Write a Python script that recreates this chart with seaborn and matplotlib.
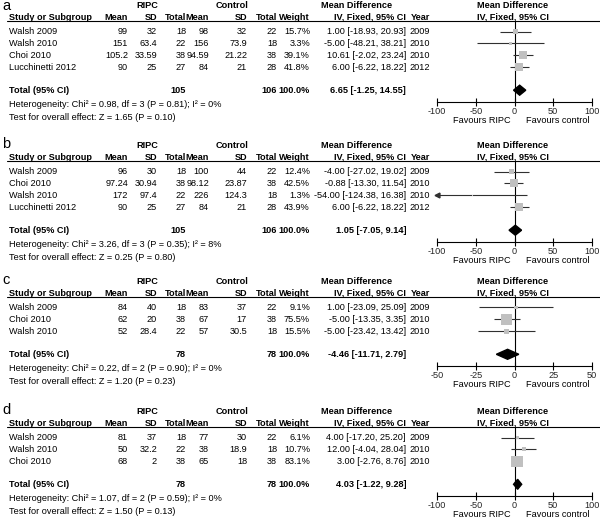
import matplotlib
matplotlib.use('Agg')
import matplotlib.pyplot as plt
from matplotlib.lines import Line2D
import pandas as pd
import seaborn as sns

sns.set_style('white')
plt.rcParams['font.family'] = ['Liberation Sans', 'DejaVu Sans']

# Panel a
a_study = ['Walsh 2009', 'Walsh 2010', 'Choi 2010', 'Lucchinetti 2012']
a_r_mean = [99, 151, 105.2, 90]
a_r_sd = [32, 63.4, 33.59, 25]
a_r_n = [18, 22, 38, 27]
a_c_mean = [98, 156, 94.59, 84]
a_c_sd = [32, 73.9, 21.22, 21]
a_c_n = [22, 18, 38, 28]
a_weight = [15.7, 3.3, 39.1, 41.8]
a_md = [1.00, -5.00, 10.61, 6.00]
a_lo = [-18.93, -48.21, -2.02, -6.22]
a_hi = [20.93, 38.21, 23.24, 18.22]
a_year = [2009, 2010, 2010, 2012]
a_total = [6.65, -1.25, 14.55]
a_ntot = [105, 106]
a_het = 'Heterogeneity: Chi² = 0.98, df = 3 (P = 0.81); I² = 0%'
a_test = 'Test for overall effect: Z = 1.65 (P = 0.10)'

# Panel b
b_study = ['Walsh 2009', 'Choi 2010', 'Walsh 2010', 'Lucchinetti 2012']
b_r_mean = [96, 97.24, 172, 90]
b_r_sd = [30, 30.94, 97.4, 25]
b_r_n = [18, 38, 22, 27]
b_c_mean = [100, 98.12, 226, 84]
b_c_sd = [44, 23.87, 124.3, 21]
b_c_n = [22, 38, 18, 28]
b_weight = [12.4, 42.5, 1.3, 43.9]
b_md = [-4.00, -0.88, -54.00, 6.00]
b_lo = [-27.02, -13.30, -124.38, -6.22]
b_hi = [19.02, 11.54, 16.38, 18.22]
b_year = [2009, 2010, 2010, 2012]
b_total = [1.05, -7.05, 9.14]
b_ntot = [105, 106]
b_het = 'Heterogeneity: Chi² = 3.26, df = 3 (P = 0.35); I² = 8%'
b_test = 'Test for overall effect: Z = 0.25 (P = 0.80)'

# Panel c
c_study = ['Walsh 2009', 'Choi 2010', 'Walsh 2010']
c_r_mean = [84, 62, 52]
c_r_sd = [40, 20, 28.4]
c_r_n = [18, 38, 22]
c_c_mean = [83, 67, 57]
c_c_sd = [37, 17, 30.5]
c_c_n = [22, 38, 18]
c_weight = [9.1, 75.5, 15.5]
c_md = [1.00, -5.00, -5.00]
c_lo = [-23.09, -13.35, -23.42]
c_hi = [25.09, 3.35, 13.42]
c_year = [2009, 2010, 2010]
c_total = [-4.46, -11.71, 2.79]
c_ntot = [78, 78]
c_het = 'Heterogeneity: Chi² = 0.22, df = 2 (P = 0.90); I² = 0%'
c_test = 'Test for overall effect: Z = 1.20 (P = 0.23)'

# Panel d
d_study = ['Walsh 2009', 'Walsh 2010', 'Choi 2010']
d_r_mean = [81, 50, 68]
d_r_sd = [37, 32.2, 2]
d_r_n = [18, 22, 38]
d_c_mean = [77, 38, 65]
d_c_sd = [30, 18.9, 18]
d_c_n = [22, 18, 38]
d_weight = [6.1, 10.7, 83.1]
d_md = [4.00, 12.00, 3.00]
d_lo = [-17.20, -4.04, -2.76]
d_hi = [25.20, 28.04, 8.76]
d_year = [2009, 2010, 2010]
d_total = [4.03, -1.22, 9.28]
d_ntot = [78, 78]
d_het = 'Heterogeneity: Chi² = 1.07, df = 2 (P = 0.59); I² = 0%'
d_test = 'Test for overall effect: Z = 1.50 (P = 0.13)'

W, H = 600, 520
FS = 6.6
fig = plt.figure(figsize=(W / 100, H / 100), dpi=100)


def txt(x, y, s, ha='left', bold=False, size=FS, va='center'):
    fig.text(x / W, 1 - y / H, s, ha=ha, va=va, fontsize=size,
             fontweight='bold' if bold else 'normal', color='black')


def fmt(v):
    return f'{v:g}'


def panel(letter, hdr, lim, study, r_mean, r_sd, r_n, c_mean, c_sd, c_n,
          weight, md, lo, hi, year, total, ntot, het, test):
    step = 11.9
    rows = [hdr + 14.5 + i * step for i in range(len(study))]
    y_tot = rows[-1] + 23
    y_axis = y_tot + 11.5
    y_top = hdr + 4

    # headers
    txt(2, max(hdr - 9, 10.5), letter, size=10.5, va='baseline')
    txt(147, hdr - 11, 'RIPC', ha='center', bold=True)
    txt(232, hdr - 11, 'Control', ha='center', bold=True)
    txt(357, hdr - 11, 'Mean Difference', ha='center', bold=True)
    txt(513, hdr - 11, 'Mean Difference', ha='center', bold=True)
    txt(9, hdr, 'Study or Subgroup', bold=True)
    cols = [128, 157, 186, 209, 247, 277, 310]
    for x, lab in zip(cols, ['Mean', 'SD', 'Total', 'Mean', 'SD', 'Total', 'Weight']):
        txt(x, hdr, lab, ha='right', bold=True)
    txt(406, hdr, 'IV, Fixed, 95% CI', ha='right', bold=True)
    txt(430, hdr, 'Year', ha='right', bold=True)
    txt(513, hdr, 'IV, Fixed, 95% CI', ha='center', bold=True)
    fig.add_artist(Line2D([7 / W, 1], [1 - y_top / H] * 2,
                          transform=fig.transFigure, color='black', lw=0.8))

    # study rows
    for i, y in enumerate(rows):
        txt(9, y, study[i])
        vals = [fmt(r_mean[i]), fmt(r_sd[i]), str(r_n[i]), fmt(c_mean[i]),
                fmt(c_sd[i]), str(c_n[i]), f'{weight[i]:.1f}%']
        for x, v in zip(cols, vals):
            txt(x, y, v, ha='right')
        txt(406, y, f'{md[i]:.2f} [{lo[i]:.2f}, {hi[i]:.2f}]', ha='right')
        txt(430, y, str(year[i]), ha='right')

    # total rows
    txt(9, y_tot, 'Total (95% CI)', bold=True)
    txt(186, y_tot, str(ntot[0]), ha='right', bold=True)
    txt(277, y_tot, str(ntot[1]), ha='right', bold=True)
    txt(310, y_tot, '100.0%', ha='right', bold=True)
    txt(406, y_tot, f'{total[0]:.2f} [{total[1]:.2f}, {total[2]:.2f}]',
        ha='right', bold=True)
    txt(9, y_tot + 14, het)
    txt(9, y_tot + 27, test)

    # forest axes
    ax = fig.add_axes([437 / W, 1 - y_axis / H, 155 / W, (y_axis - y_top) / H])
    ax.set_xlim(-lim, lim)
    ax.set_ylim(y_axis, y_top)
    df = pd.DataFrame({'md': md, 'y': rows, 'w': weight})
    sns.scatterplot(data=df, x='md', y='y', size='w', sizes=(0, 82),
                    size_norm=(0, 100), marker='s', color='#c0c0c0',
                    linewidth=0, legend=False, ax=ax, zorder=3)
    for i, y in enumerate(rows):
        l, h = max(lo[i], -lim), min(hi[i], lim)
        ax.hlines(y, l, h, color='#303030', lw=0.8, zorder=2)
        if lo[i] < -lim:
            ax.plot([-lim], [y], marker='<', color='#303030', markersize=3.5,
                    clip_on=False)
        if hi[i] > lim:
            ax.plot([lim], [y], marker='>', color='#303030', markersize=3.5,
                    clip_on=False)
    ax.fill([total[1], total[0], total[2], total[0]],
            [y_tot, y_tot - 5, y_tot, y_tot + 5], color='black', zorder=4)
    ax.axvline(0, color='black', lw=0.8, zorder=1)
    for s in ['left', 'right', 'top']:
        ax.spines[s].set_visible(False)
    ax.spines['bottom'].set_linewidth(0.8)
    ax.spines['bottom'].set_color('black')
    ax.set_yticks([])
    ax.set_xticks([-lim, -lim / 2, 0, lim / 2, lim])
    ax.set_xticklabels([fmt(v) for v in [-lim, -lim / 2, 0, lim / 2, lim]])
    ax.tick_params(axis='x', direction='inout', length=6, width=0.8,
                   labelsize=FS, pad=1, bottom=True, color='black')
    ax.set_xlabel('')
    ax.set_ylabel('')
    ax.patch.set_alpha(0)
    txt(482, y_axis + 19, 'Favours RIPC', ha='center')
    txt(558, y_axis + 19, 'Favours control', ha='center')


panel('a', 17, 100, a_study, a_r_mean, a_r_sd, a_r_n, a_c_mean, a_c_sd, a_c_n,
      a_weight, a_md, a_lo, a_hi, a_year, a_total, a_ntot, a_het, a_test)
panel('b', 157, 100, b_study, b_r_mean, b_r_sd, b_r_n, b_c_mean, b_c_sd, b_c_n,
      b_weight, b_md, b_lo, b_hi, b_year, b_total, b_ntot, b_het, b_test)
panel('c', 293, 50, c_study, c_r_mean, c_r_sd, c_r_n, c_c_mean, c_c_sd, c_c_n,
      c_weight, c_md, c_lo, c_hi, c_year, c_total, c_ntot, c_het, c_test)
panel('d', 423, 100, d_study, d_r_mean, d_r_sd, d_r_n, d_c_mean, d_c_sd, d_c_n,
      d_weight, d_md, d_lo, d_hi, d_year, d_total, d_ntot, d_het, d_test)

fig.savefig('out.png', dpi=100, facecolor='white')
